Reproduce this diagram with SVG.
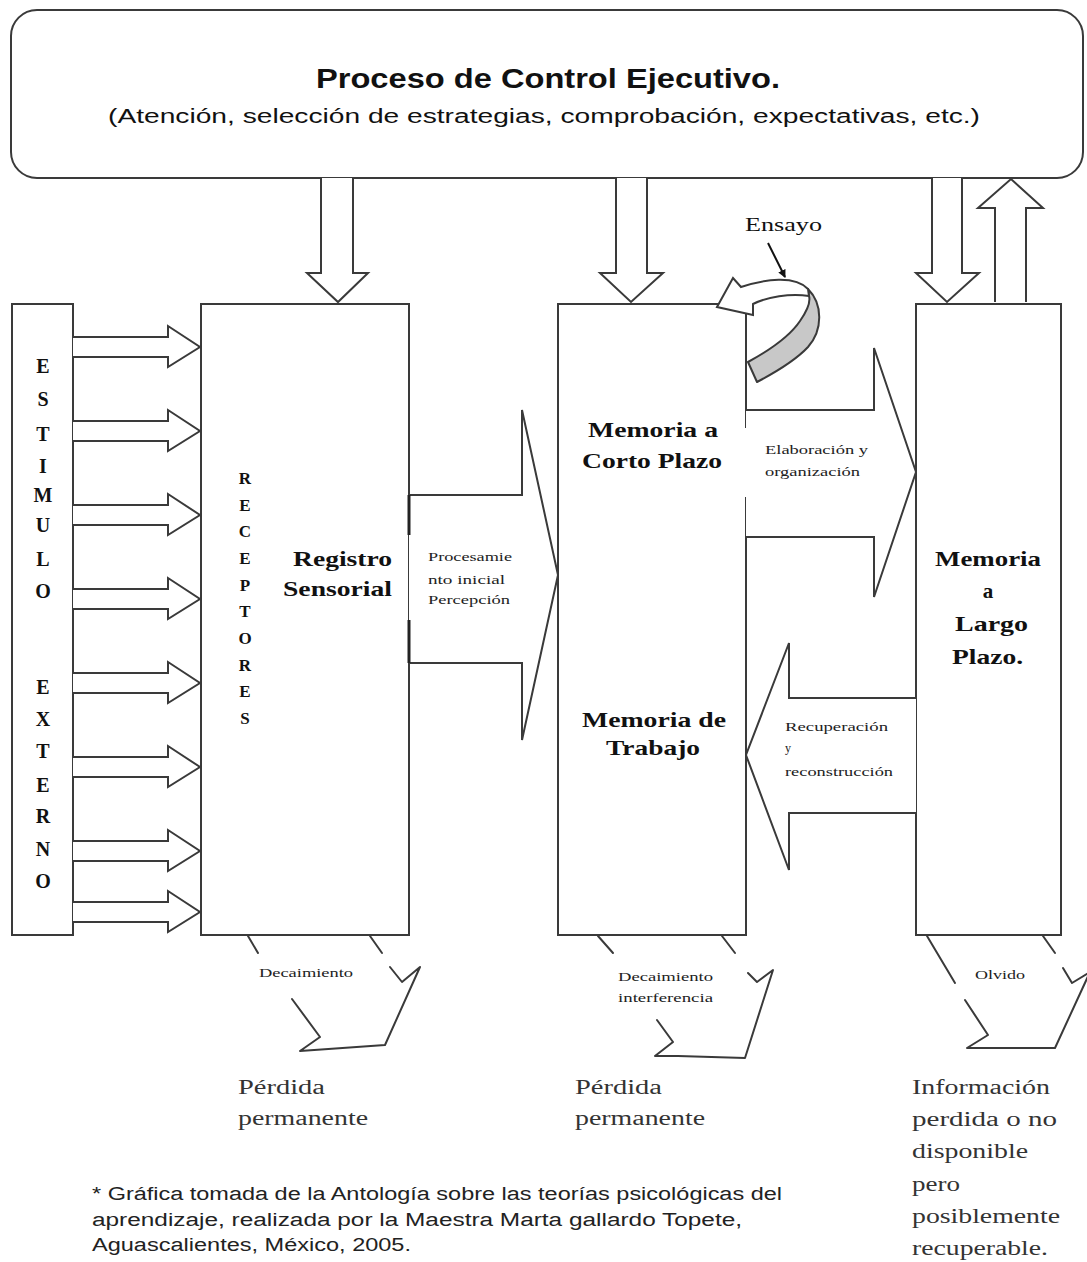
<svg xmlns="http://www.w3.org/2000/svg" width="1087" height="1262" viewBox="0 0 1087 1262">
<defs>
<style>
.ln{fill:#fff;stroke:#3a3a3a;stroke-width:2;stroke-linejoin:miter}
.op{fill:none;stroke:#3a3a3a;stroke-width:2;stroke-linecap:round;stroke-linejoin:round}
.sans{font-family:"Liberation Sans",Arial,sans-serif;fill:#111}
.serif{font-family:"Liberation Serif","Times New Roman",serif;fill:#111}
.big{font-weight:bold;font-size:21px}
.let{font-weight:bold;font-size:20px;text-anchor:middle}
.rec{font-weight:bold;font-size:17px;text-anchor:middle}
.sm{font-size:12px;fill:#222}
.low{font-size:20px;fill:#333}
.foot{font-size:18px;fill:#222}
</style>
<marker id="ah" markerWidth="8" markerHeight="8" refX="7" refY="4" orient="auto" markerUnits="userSpaceOnUse">
<path d="M0,0 L8,4 L0,8 Z" fill="#111"/>
</marker>
</defs>
<rect width="1087" height="1262" fill="#fff"/>

<g id="control">
<rect x="11" y="10" width="1072" height="168" rx="26" ry="26" class="ln"/>
<text x="548" y="88" class="sans" font-weight="bold" font-size="27" text-anchor="middle" textLength="464" lengthAdjust="spacingAndGlyphs">Proceso de Control Ejecutivo.</text>
<text x="544" y="123" class="sans" font-size="20" fill="#333" text-anchor="middle" textLength="872" lengthAdjust="spacingAndGlyphs">(Atención, selección de estrategias, comprobación, expectativas, etc.)</text>
</g>

<g id="estimulo">
<rect x="12" y="304" width="61" height="631" class="ln"/>
<text class="serif let" x="43" y="373">E</text>
<text class="serif let" x="43" y="406">S</text>
<text class="serif let" x="43" y="441">T</text>
<text class="serif let" x="43" y="473">I</text>
<text class="serif let" x="43" y="502">M</text>
<text class="serif let" x="43" y="532">U</text>
<text class="serif let" x="43" y="566">L</text>
<text class="serif let" x="43" y="598">O</text>
<text class="serif let" x="43" y="694">E</text>
<text class="serif let" x="43" y="726">X</text>
<text class="serif let" x="43" y="758">T</text>
<text class="serif let" x="43" y="792">E</text>
<text class="serif let" x="43" y="823">R</text>
<text class="serif let" x="43" y="856">N</text>
<text class="serif let" x="43" y="888">O</text>
</g>

<g id="registro">
<rect x="201" y="304" width="208" height="631" class="ln"/>
<text class="serif rec" x="245" y="484">R</text>
<text class="serif rec" x="245" y="511">E</text>
<text class="serif rec" x="245" y="537">C</text>
<text class="serif rec" x="245" y="564">E</text>
<text class="serif rec" x="245" y="591">P</text>
<text class="serif rec" x="245" y="617">T</text>
<text class="serif rec" x="245" y="644">O</text>
<text class="serif rec" x="245" y="671">R</text>
<text class="serif rec" x="245" y="697">E</text>
<text class="serif rec" x="245" y="724">S</text>
<text class="serif big" x="293" y="566" textLength="99" lengthAdjust="spacingAndGlyphs">Registro</text>
<text class="serif big" x="283" y="596" textLength="109" lengthAdjust="spacingAndGlyphs">Sensorial</text>
</g>

<g id="memoria-corto">
<rect x="558" y="304" width="188" height="631" class="ln"/>
<text class="serif big" x="588" y="437" textLength="130" lengthAdjust="spacingAndGlyphs">Memoria a</text>
<text class="serif big" x="582" y="468" textLength="140" lengthAdjust="spacingAndGlyphs">Corto Plazo</text>
<text class="serif big" x="582" y="727" textLength="144" lengthAdjust="spacingAndGlyphs">Memoria de</text>
<text class="serif big" x="606" y="755" textLength="94" lengthAdjust="spacingAndGlyphs">Trabajo</text>
</g>

<g id="memoria-largo">
<rect x="916" y="304" width="145" height="631" class="ln"/>
<text class="serif big" x="935" y="566" textLength="106" lengthAdjust="spacingAndGlyphs">Memoria</text>
<text class="serif big" x="988" y="598" text-anchor="middle">a</text>
<text class="serif big" x="955" y="631" textLength="73" lengthAdjust="spacingAndGlyphs">Largo</text>
<text class="serif big" x="952" y="664" textLength="71" lengthAdjust="spacingAndGlyphs">Plazo.</text>
</g>

<g id="connectors">
<!-- control down arrows -->
<path class="ln" d="M321,178 V273 H307 L338,302 L368,273 H353 V178"/>
<path class="ln" d="M616,178 V273 H600 L631,302 L663,273 H647 V178"/>
<path class="ln" d="M932,178 V273 H916 L947,302 L979,273 H962 V178"/>
<path class="ln" d="M995,302 V208 H978 L1011,179 L1043,208 H1026 V302"/>
<!-- stimulus arrows -->
<path class="ln" d="M73,337 H168 V326 L200,347 L168,367 V357 H73"/>
<path class="ln" d="M73,421 H168 V410 L200,431 L168,451 V441 H73"/>
<path class="ln" d="M73,505 H168 V494 L200,515 L168,535 V525 H73"/>
<path class="ln" d="M73,589 H168 V578 L200,599 L168,619 V609 H73"/>
<path class="ln" d="M73,673 H168 V662 L200,683 L168,703 V693 H73"/>
<path class="ln" d="M73,757 H168 V746 L200,767 L168,787 V777 H73"/>
<path class="ln" d="M73,841 H168 V830 L200,851 L168,871 V861 H73"/>
<path class="ln" d="M73,902 H168 V891 L200,912 L168,932 V922 H73"/>
<!-- procesamiento inicial -->
<path class="ln" d="M409,495 H522 V410 L558,575 L522,740 V663 H409"/>
<line x1="409" y1="495" x2="409" y2="535" stroke="#222" stroke-width="3"/>
<line x1="409" y1="620" x2="409" y2="663" stroke="#222" stroke-width="3"/>
<text class="serif sm" x="428" y="561" textLength="84" lengthAdjust="spacingAndGlyphs">Procesamie</text>
<text class="serif sm" x="428" y="584" textLength="77" lengthAdjust="spacingAndGlyphs">nto inicial</text>
<text class="serif sm" x="428" y="604" textLength="82" lengthAdjust="spacingAndGlyphs">Percepción</text>
<!-- elaboracion -->
<path class="ln" d="M746,410 H874 V348 L916,472 L874,597 V537 H746"/>
<rect x="744" y="428" width="5" height="69" fill="#fff"/>
<text class="serif sm" x="765" y="454" textLength="103" lengthAdjust="spacingAndGlyphs">Elaboración y</text>
<text class="serif sm" x="765" y="476" textLength="95" lengthAdjust="spacingAndGlyphs">organización</text>
<!-- recuperacion -->
<path class="ln" d="M916,698 H789 V643 L746,755 L789,870 V813 H916"/>
<text class="serif sm" x="785" y="731" textLength="103" lengthAdjust="spacingAndGlyphs">Recuperación</text>
<text class="serif sm" x="785" y="752">y</text>
<text class="serif sm" x="785" y="776" textLength="108" lengthAdjust="spacingAndGlyphs">reconstrucción</text>
<!-- ensayo -->
<path d="M808,289 C823,304 823,330 808,347 C795,361 776,372 757,382 L748,362 C770,350 790,336 800,321 C807,311 811,303 809,296 Z" fill="#c8c8c8" stroke="#3a3a3a" stroke-width="2" stroke-linejoin="round"/>
<path d="M717,307 L733,278 L741,287 C765,279 795,275 808,289 L809,296 C790,293 767,297 753,304 L753,315 Z" class="ln" stroke-linejoin="round"/>
<text class="serif" font-size="18" fill="#222" x="745" y="231" textLength="77" lengthAdjust="spacingAndGlyphs">Ensayo</text>
<line x1="768" y1="243" x2="785" y2="277" stroke="#111" stroke-width="2" marker-end="url(#ah)"/>
<!-- decaimiento -->
<line class="op" x1="248" y1="936" x2="258" y2="953"/>
<line class="op" x1="370" y1="936" x2="382" y2="953"/>
<polyline class="op" points="390,967 402,982 420,967 385,1045 300,1051 320,1037 292,999"/>
<text class="serif sm" font-size="11" x="259" y="977" textLength="94" lengthAdjust="spacingAndGlyphs">Decaimiento</text>
<!-- decaimiento interferencia -->
<line class="op" x1="598" y1="936" x2="613" y2="953"/>
<line class="op" x1="722" y1="936" x2="735" y2="953"/>
<polyline class="op" points="748,973 757,982 773,970 745,1058 678,1056 655,1056 673,1042 657,1020"/>
<text class="serif sm" font-size="11" x="618" y="981" textLength="95" lengthAdjust="spacingAndGlyphs">Decaimiento</text>
<text class="serif sm" font-size="11" x="618" y="1002" textLength="95" lengthAdjust="spacingAndGlyphs">interferencia</text>
<!-- olvido -->
<line class="op" x1="927" y1="936" x2="955" y2="983"/>
<line class="op" x1="1043" y1="936" x2="1055" y2="953"/>
<polyline class="op" points="1063,968 1072,983 1090,972 1055,1048 967,1048 988,1035 965,1000"/>
<text class="serif sm" font-size="11" x="975" y="979" textLength="50" lengthAdjust="spacingAndGlyphs">Olvido</text>
</g>

<g id="perdida-1">
<text class="serif low" x="238" y="1094" textLength="87" lengthAdjust="spacingAndGlyphs">Pérdida</text>
<text class="serif low" x="238" y="1125" textLength="130" lengthAdjust="spacingAndGlyphs">permanente</text>
</g>
<g id="perdida-2">
<text class="serif low" x="575" y="1094" textLength="87" lengthAdjust="spacingAndGlyphs">Pérdida</text>
<text class="serif low" x="575" y="1125" textLength="130" lengthAdjust="spacingAndGlyphs">permanente</text>
</g>
<g id="informacion">
<text class="serif low" x="912" y="1094" textLength="138" lengthAdjust="spacingAndGlyphs">Información</text>
<text class="serif low" x="912" y="1126" textLength="145" lengthAdjust="spacingAndGlyphs">perdida o no</text>
<text class="serif low" x="912" y="1158" textLength="116" lengthAdjust="spacingAndGlyphs">disponible</text>
<text class="serif low" x="912" y="1191" textLength="48" lengthAdjust="spacingAndGlyphs">pero</text>
<text class="serif low" x="912" y="1223" textLength="148" lengthAdjust="spacingAndGlyphs">posiblemente</text>
<text class="serif low" x="912" y="1255" textLength="136" lengthAdjust="spacingAndGlyphs">recuperable.</text>
</g>
<g id="nota">
<text class="sans foot" x="92" y="1200" textLength="690" lengthAdjust="spacingAndGlyphs">* Gráfica tomada de la Antología sobre las teorías psicológicas del</text>
<text class="sans foot" x="92" y="1226" textLength="650" lengthAdjust="spacingAndGlyphs">aprendizaje, realizada por la Maestra Marta gallardo Topete,</text>
<text class="sans foot" x="92" y="1251" textLength="319" lengthAdjust="spacingAndGlyphs">Aguascalientes, México, 2005.</text>
</g>
</svg>
